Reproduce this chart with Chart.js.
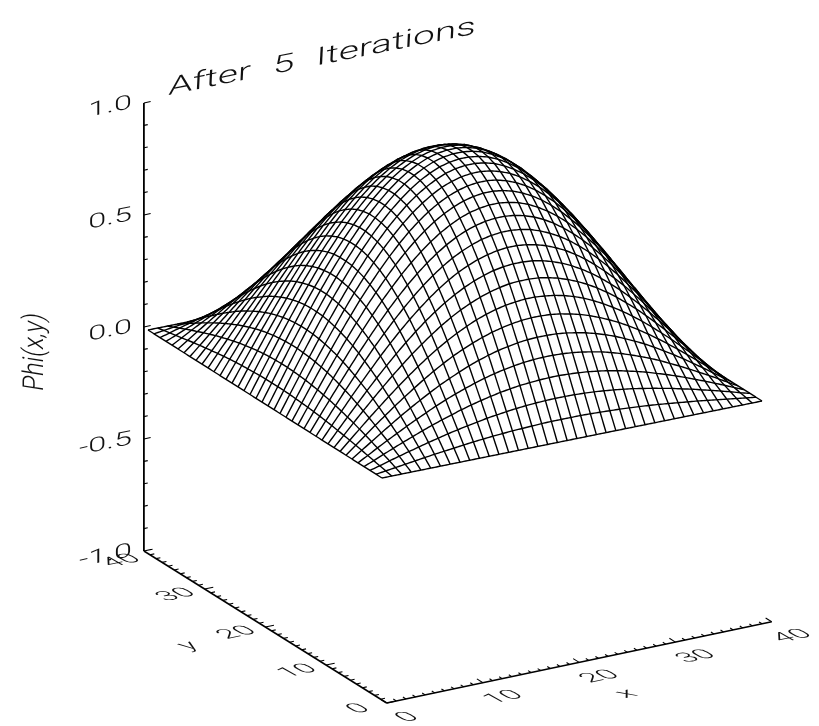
<!DOCTYPE html>
<html>
<head>
<meta charset="utf-8">
<title>After 5 Iterations</title>
<script src="https://cdn.jsdelivr.net/npm/chart.js@4/dist/chart.umd.min.js"></script>
<style>
  html, body { margin: 0; padding: 0; background: #fff; }
  canvas { display: block; }
</style>
</head>
<body>
<canvas id="surfaceChart" width="819" height="726"></canvas>
<script>
const titleText = 'After 5 Iterations';
const xAxisTitle = 'x';
const yAxisTitle = 'y';
const zAxisTitle = 'Phi(x,y)';
const xTickValues = [0, 10, 20, 30, 40];
const xTickLabels = ['0', '10', '20', '30', '40'];
const yTickValues = [0, 10, 20, 30, 40];
const yTickLabels = ['0', '10', '20', '30', '40'];
const zTickValues = [-1, -0.5, 0, 0.5, 1];
const zTickLabels = ['-1.0', '-0.5', '0.0', '0.5', '1.0'];

// Phi in thousandths, one quarter of the grid (the surface is mirrored about x=19.5 and y=19.5)
const phiQuarter = [
  [0,0,0,0,0,0,0,0,0,0,0,0,0,0,0,0,0,0,0,0],
  [0,6,12,18,24,30,36,41,46,51,56,60,64,67,70,72,74,76,77,77],
  [0,12,25,37,49,60,72,82,93,102,111,119,127,133,139,144,148,151,153,154],
  [0,18,37,55,73,90,107,123,138,152,166,178,189,199,208,215,221,225,228,230],
  [0,24,49,73,96,119,141,162,183,202,219,235,250,263,275,284,292,298,302,304],
  [0,30,60,90,119,148,175,201,226,250,271,291,310,326,340,352,361,369,374,376],
  [0,36,72,107,141,175,207,238,268,296,322,346,367,386,403,417,428,437,443,446],
  [0,41,82,123,162,201,238,274,308,340,370,397,422,444,464,480,493,503,509,513],
  [0,46,93,138,183,226,268,308,347,382,416,447,475,500,521,539,554,565,573,576],
  [0,51,102,152,202,250,296,340,382,422,459,493,524,551,575,595,611,624,632,636],
  [0,56,111,166,219,271,322,370,416,459,499,536,570,600,626,647,665,678,687,692],
  [0,60,119,178,235,291,346,397,447,493,536,576,612,644,672,695,714,729,738,743],
  [0,64,127,189,250,310,367,422,475,524,570,612,650,684,714,739,759,774,784,789],
  [0,67,133,199,263,326,386,444,500,551,600,644,684,720,751,777,799,815,825,831],
  [0,70,139,208,275,340,403,464,521,575,626,672,714,751,784,811,833,850,861,867],
  [0,72,144,215,284,352,417,480,539,595,647,695,739,777,811,839,862,879,891,897],
  [0,74,148,221,292,361,428,493,554,611,665,714,759,799,833,862,886,903,915,921],
  [0,76,151,225,298,369,437,503,565,624,678,729,774,815,850,879,903,922,934,940],
  [0,77,153,228,302,374,443,509,573,632,687,738,784,825,861,891,915,934,946,952],
  [0,77,154,230,304,376,446,513,576,636,692,743,789,831,867,897,921,940,952,958]
];

const gridSize = 40;

// 3D to page projection for the axes
const originX = 386.7, originY = 703;
const xStep = [9.625, -2.03];
const yStep = [-6.07, -3.8];
const zPixels = 224;

function project(x, y, z) {
  return {
    x: originX + x * xStep[0] + y * yStep[0],
    y: originY + x * xStep[1] + y * yStep[1] - (z + 1) * zPixels
  };
}

// The mesh sits a touch off the axes in the original, so it has its own steps
function projectMesh(x, y, z) {
  return {
    x: 382 + x * 9.744 - y * 6,
    y: 702 - x * 1.974 - y * 3.795 - (z + 1) * zPixels
  };
}

function phiAt(i, j) {
  const a = Math.min(i, gridSize - 1 - i);
  const b = Math.min(j, gridSize - 1 - j);
  return phiQuarter[a][b] / 1000;
}

// Hidden lines: walk the grid front to back and keep only what is above the horizon so far
const horizon = {};
const rowLines = [];
const colLines = [];
for (let n = 0; n < gridSize; n++) {
  rowLines.push([]);
  colLines.push([]);
}

function addSegment(line, a, b) {
  const steps = 5;
  for (let s = 0; s < steps; s++) {
    const t0 = s / steps, t1 = (s + 1) / steps;
    const p0 = { x: a.x + (b.x - a.x) * t0, y: a.y + (b.y - a.y) * t0 };
    const p1 = { x: a.x + (b.x - a.x) * t1, y: a.y + (b.y - a.y) * t1 };
    const col = Math.round((p0.x + p1.x) / 2);
    const top = horizon[col];
    if (top === undefined || (p0.y + p1.y) / 2 <= top + 0.6) {
      line.push(p0, p1);
    } else {
      line.push({ x: p0.x, y: null });
    }
  }
}

function markHorizon(a, b) {
  const left = a.x < b.x ? a : b;
  const right = a.x < b.x ? b : a;
  for (let c = Math.ceil(left.x); c <= Math.floor(right.x); c++) {
    const t = (c - left.x) / Math.max(right.x - left.x, 0.001);
    const y = left.y + (right.y - left.y) * t;
    if (horizon[c] === undefined || y < horizon[c]) horizon[c] = y;
  }
}

function buildMesh() {
  const pts = [];
  for (let i = 0; i < gridSize; i++) {
    pts.push([]);
    for (let j = 0; j < gridSize; j++) pts[i].push(projectMesh(i, j, phiAt(i, j)));
  }
  for (let j = 0; j < gridSize; j++) {
    const done = [];
    for (let i = 0; i < gridSize - 1; i++) {
      addSegment(rowLines[j], pts[i][j], pts[i + 1][j]);
      done.push([pts[i][j], pts[i + 1][j]]);
    }
    if (j > 0) {
      for (let i = 0; i < gridSize; i++) {
        addSegment(colLines[i], pts[i][j - 1], pts[i][j]);
        done.push([pts[i][j - 1], pts[i][j]]);
      }
    }
    done.forEach(d => markHorizon(d[0], d[1]));
  }
}
buildMesh();

// Tick marks
function tickLine(list, from, dir, len) {
  const a = project(from[0], from[1], from[2]);
  const b = project(from[0] + dir[0] * len, from[1] + dir[1] * len, from[2] + dir[2] * len);
  list.push(a, b, { x: b.x, y: null });
}

const tickPoints = [];
for (let v = 0; v <= 40; v++) {
  const major = v % 10 === 0;
  tickLine(tickPoints, [v, 0, -1], [0, 1, 0], major ? 1.0 : 0.5);
  tickLine(tickPoints, [0, v, -1], [1, 0, 0], major ? 0.9 : 0.45);
}
for (let k = 0; k <= 20; k++) {
  const z = -1 + k * 0.1;
  tickLine(tickPoints, [0, 40, z], [1, 0, 0], k % 5 === 0 ? 0.7 : 0.4);
}

function lineDataset(points, width) {
  return {
    data: points,
    showLine: true,
    borderColor: '#000',
    borderWidth: width,
    pointRadius: 0,
    tension: 0
  };
}

const datasets = [];
rowLines.forEach(l => datasets.push(lineDataset(l, 1.4)));
colLines.forEach(l => datasets.push(lineDataset(l, 1.4)));
datasets.push(lineDataset([project(0, 0, -1), project(40, 0, -1)], 1.5));
datasets.push(lineDataset([project(0, 0, -1), project(0, 40, -1)], 1.5));
datasets.push(lineDataset([project(0, 40, -1), project(0, 40, 1)], 1.8));
datasets.push(lineDataset(tickPoints, 1.1));

// The labels lie in the planes of the axes, so they need a skewed transform
const labelFont = '300 18px Roboto, "Liberation Sans", sans-serif';

function drawSkewed(ctx, text, cx, cy, right, up, font, align) {
  ctx.save();
  ctx.transform(right[0], right[1], -up[0], -up[1], cx, cy);
  ctx.font = font;
  ctx.fillStyle = '#111';
  ctx.textAlign = align || 'center';
  ctx.textBaseline = 'middle';
  ctx.fillText(text, 0, 0);
  ctx.restore();
}

const axisTextPlugin = {
  id: 'axisText',
  afterDraw(chart) {
    const ctx = chart.ctx;
    const sx = chart.scales.x, sy = chart.scales.y;
    const place = p => ({ x: sx.getPixelForValue(p.x), y: sy.getPixelForValue(p.y) });
    const floorRight = [1.6, -0.34];
    const floorUp = [-1.1, -0.62];

    xTickValues.forEach((v, n) => {
      const p = place(project(v, 0, -1));
      drawSkewed(ctx, xTickLabels[n], p.x + 21, p.y + 14.5, floorRight, floorUp, labelFont);
    });
    yTickValues.forEach((v, n) => {
      const p = place(project(0, v, -1));
      const far = v === 40;
      drawSkewed(ctx, yTickLabels[n], p.x + (far ? -22 : -28), p.y + (far ? 10 : 6), floorRight, floorUp, labelFont);
    });
    zTickValues.forEach((v, n) => {
      const p = place(project(0, 40, v));
      drawSkewed(ctx, zTickLabels[n], p.x - 12, p.y, [1.8, -0.36], [0, -1.1], labelFont, 'right');
    });

    const xt = place({ x: 627, y: 694 });
    drawSkewed(ctx, xAxisTitle, xt.x, xt.y, floorRight, floorUp, labelFont);
    const yt = place({ x: 189, y: 646 });
    drawSkewed(ctx, yAxisTitle, yt.x, yt.y, floorRight, floorUp, labelFont);
    const zt = place({ x: 36, y: 352 });
    drawSkewed(ctx, zAxisTitle, zt.x, zt.y, [0, -1.35], [-1.6, -0.25], labelFont);

    const tt = place({ x: 322, y: 58 });
    ctx.save();
    ctx.wordSpacing = '8px';
    drawSkewed(ctx, titleText, tt.x, tt.y, [1.55, -0.31], [0.05, -1], '300 25px Roboto, "Liberation Sans", sans-serif');
    ctx.restore();
  }
};

new Chart(document.getElementById('surfaceChart').getContext('2d'), {
  type: 'scatter',
  data: { datasets: datasets },
  options: {
    responsive: false,
    animation: false,
    events: [],
    layout: { padding: 0 },
    plugins: { legend: { display: false }, tooltip: { enabled: false } },
    scales: {
      x: { type: 'linear', display: false, min: 0, max: 819 },
      y: { type: 'linear', display: false, min: 0, max: 726, reverse: true }
    }
  },
  plugins: [axisTextPlugin]
});
</script>
</body>
</html>
